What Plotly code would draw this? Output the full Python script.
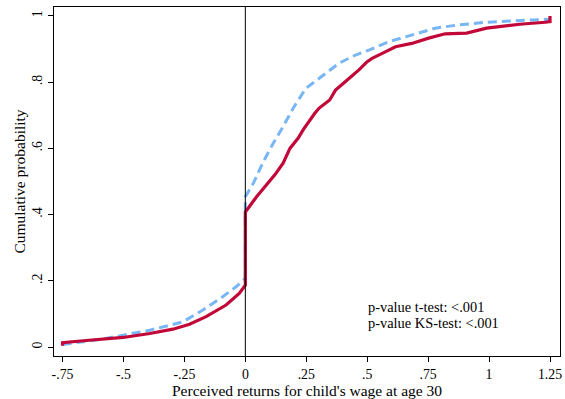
import plotly.graph_objects as go

# Red (solid) CDF
red_x = [-0.75, -0.75, -0.665, -0.501, -0.392, -0.297, -0.229, -0.161, -0.079, -0.025, 0.0,
         0.0, 0.046, 0.094, 0.121, 0.155, 0.183, 0.217, 0.237, 0.285, 0.302, 0.346, 0.37,
         0.411, 0.466, 0.5, 0.52, 0.57, 0.616, 0.683, 0.752, 0.82, 0.874, 0.908, 0.99,
         1.126, 1.23, 1.25, 1.25]
red_y = [0.004, 0.013, 0.019, 0.029, 0.041, 0.054, 0.069, 0.092, 0.127, 0.162, 0.187,
         0.408, 0.454, 0.495, 0.520, 0.555, 0.600, 0.631, 0.656, 0.706, 0.721, 0.746, 0.776,
         0.802, 0.837, 0.862, 0.872, 0.89, 0.907, 0.917, 0.933, 0.946, 0.948, 0.948, 0.963,
         0.975, 0.981, 0.983, 1.0]

# Blue (dashed) CDF
blue_x = [-0.75, -0.596, -0.392, -0.256, -0.174, -0.093, -0.038, 0.0,
          0.0, 0.033, 0.074, 0.114, 0.155, 0.2, 0.248, 0.33, 0.384, 0.452, 0.507,
          0.588, 0.683, 0.779, 0.874, 0.99, 1.18, 1.25]
blue_y = [0.008, 0.023, 0.051, 0.076, 0.112, 0.152, 0.182, 0.207,
          0.454, 0.495, 0.56, 0.615, 0.666, 0.726, 0.781, 0.827, 0.857, 0.882, 0.897,
          0.922, 0.943, 0.963, 0.973, 0.981, 0.988, 0.99]

x_ticks = [-0.75, -0.5, -0.25, 0, 0.25, 0.5, 0.75, 1, 1.25]
x_labels = ["-.75", "-.5", "-.25", "0", ".25", ".5", ".75", "1", "1.25"]
y_ticks = [0, 0.2, 0.4, 0.6, 0.8, 1]
y_labels = ["0", ".2", ".4", ".6", ".8", "1"]

FONT = "Liberation Serif"

fig = go.Figure()
fig.add_trace(go.Scatter(x=blue_x, y=blue_y, mode="lines",
                         line=dict(color="rgb(120,182,245)", width=3, dash="9px,5px"),
                         showlegend=False))
fig.add_trace(go.Scatter(x=red_x, y=red_y, mode="lines",
                         line=dict(color="rgb(194,8,56)", width=3.2),
                         showlegend=False))

fig.add_shape(type="line", x0=0, x1=0, y0=0, y1=1, xref="x", yref="paper",
              line=dict(color="black", width=1))

fig.add_annotation(x=0.494, y=0.121, xref="x", yref="y", xanchor="left", yanchor="middle",
                   text="p-value t-test: <.001", showarrow=False,
                   font=dict(family=FONT, size=14.4, color="black"))
fig.add_annotation(x=0.494, y=0.073, xref="x", yref="y", xanchor="left", yanchor="middle",
                   text="p-value KS-test: <.001", showarrow=False,
                   font=dict(family=FONT, size=14.4, color="black"))

# x-axis title placed as annotation just below tick labels
fig.add_annotation(x=0.5, y=-0.0688, xref="paper", yref="paper", xanchor="center", yanchor="top",
                   text="Perceived returns for child's wage at age 30", showarrow=False,
                   font=dict(family=FONT, size=15.5, color="black"))

fig.update_layout(
    width=565, height=399,
    margin=dict(l=54, r=3, t=7, b=43),
    paper_bgcolor="white", plot_bgcolor="white",
    font=dict(family=FONT, size=13.8, color="black"),
    xaxis=dict(range=[-0.785, 1.291], tickvals=x_ticks, ticktext=x_labels,
               showgrid=False, zeroline=False, showline=True, mirror=True,
               linecolor="black", linewidth=1, ticks="outside", ticklen=5,
               tickcolor="black"),
    yaxis=dict(range=[-0.027, 1.027], tickvals=y_ticks, ticktext=y_labels,
               showgrid=False, zeroline=False, showline=True, mirror=True,
               linecolor="black", linewidth=1, ticks="outside", ticklen=5,
               tickcolor="black", tickangle=-90,
               title=dict(text="Cumulative probability", standoff=1,
                          font=dict(family=FONT, size=15.5, color="black"))),
)

fig.write_html("out.html")
